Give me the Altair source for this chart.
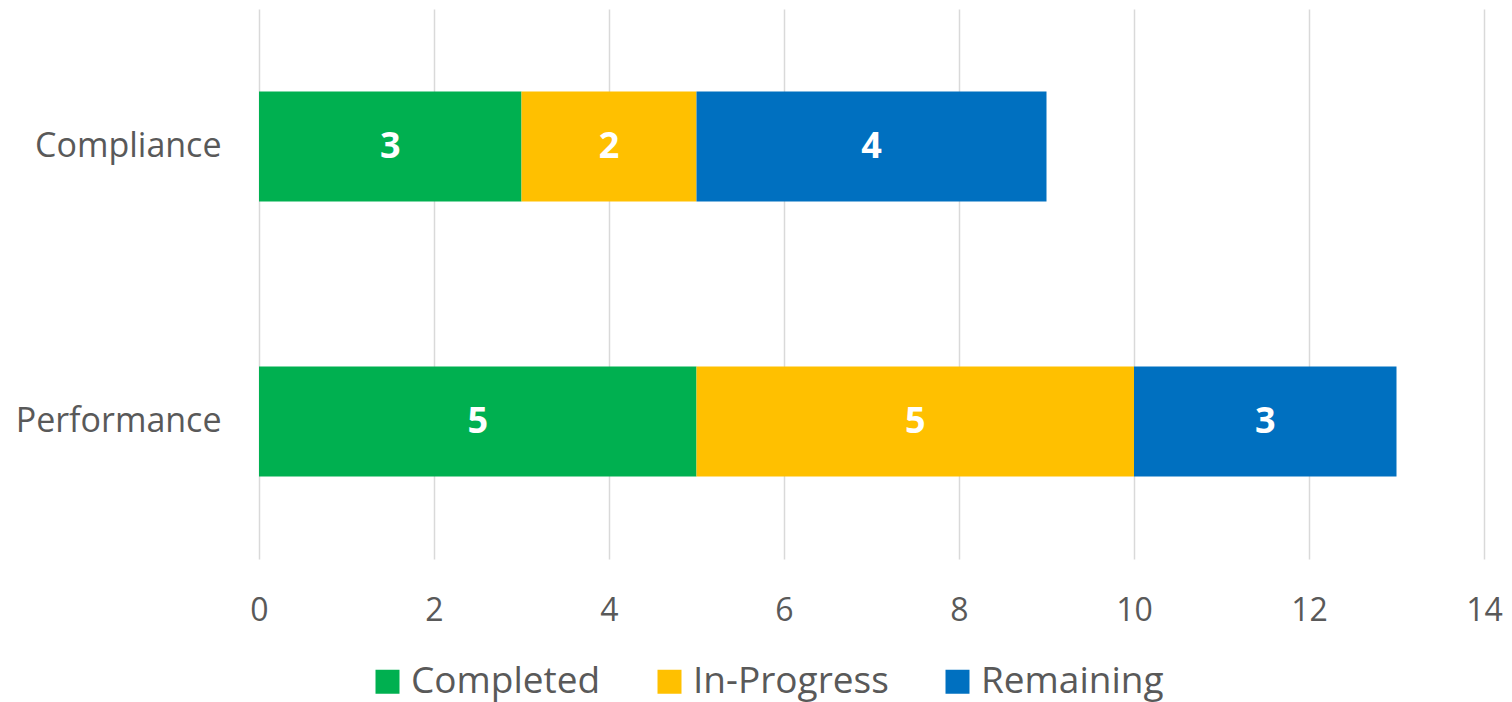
import altair as alt
import pandas as pd

categories = ["Compliance", "Performance"]
series = ["Completed", "In-Progress", "Remaining"]
completed = [3, 5]
in_progress = [2, 5]
remaining = [4, 3]
colors = ["#00B050", "#FFC000", "#0070C0"]
x_ticks = [0, 2, 4, 6, 8, 10, 12, 14]

rows = []
for i, c in enumerate(categories):
    for j, (s, vals) in enumerate(zip(series, [completed, in_progress, remaining])):
        rows.append({"category": c, "series": s, "value": vals[i], "idx": j})
df = pd.DataFrame(rows)

FONT = "Open Sans"
W, H = 1225, 550

base = alt.Chart(df)

bars = base.mark_bar().encode(
    y=alt.Y("category:N", sort=categories, title=None,
            scale=alt.Scale(paddingInner=0.6, paddingOuter=0.3),
            axis=alt.Axis(labelFont=FONT, labelFontSize=34, labelColor="#595959",
                          ticks=False, domain=False, labelPadding=38, grid=False,
                          labelLimit=400)),
    x=alt.X("value:Q", stack="zero", title=None,
            scale=alt.Scale(domain=[0, 14], nice=False),
            axis=alt.Axis(values=x_ticks, format="d", labelFont=FONT, labelFontSize=32,
                          labelColor="#595959", ticks=False, domain=False,
                          labelFlush=False, labelAlign="center",
                          labelPadding=36, grid=True, gridColor="#d9d9d9",
                          gridWidth=1.5)),
    color=alt.Color("series:N", sort=series,
                    scale=alt.Scale(domain=series, range=colors),
                    legend=alt.Legend(title=None, orient="none", direction="horizontal",
                                      legendX=110, legendY=654,
                                      symbolType="square", symbolSize=576,
                                      symbolStrokeWidth=0, labelFont=FONT,
                                      labelFontSize=37, labelColor="#595959",
                                      labelOffset=5, columnPadding=50,
                                      labelLimit=400)),
    order=alt.Order("idx:Q", sort="ascending"),
)

labels = base.transform_window(
    cum="sum(value)", sort=[alt.SortField("idx")], groupby=["category"]
).transform_calculate(
    mid="datum.cum - datum.value / 2"
).mark_text(font=FONT, fontSize=36, fontWeight="bold", color="white").encode(
    y=alt.Y("category:N", sort=categories),
    x=alt.X("mid:Q"),
    text=alt.Text("value:Q"),
)

chart = alt.layer(bars, labels).properties(
    width=W, height=H,
    autosize=alt.AutoSizeParams(type="none"),
    padding={"left": 251, "top": 1, "right": 20, "bottom": 145},
).configure_view(stroke=None)

chart.save("out.html", embed_options={"renderer": "svg", "actions": False})
